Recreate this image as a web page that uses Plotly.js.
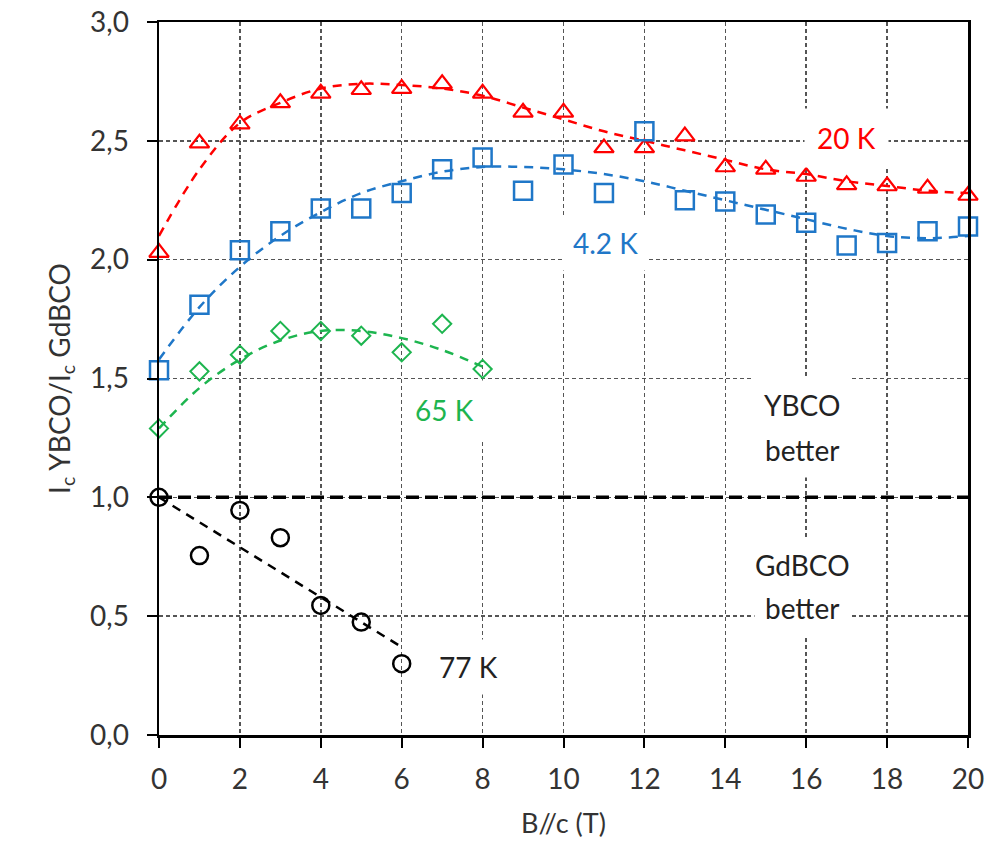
<!DOCTYPE html>
<html>
<head>
<meta charset="utf-8">
<script src="https://cdn.plot.ly/plotly-3.0.1.min.js"></script>
<style>html,body{margin:0;padding:0;background:#fff;}</style>
</head>
<body>
<div id="chart" style="width:995px;height:853px;"></div>
<script>
// ---- data ----
const fields20 = [0,1,2,3,4,5,6,7,8,9,10,11,12,13,14,15,16,17,18,19,20];
const ratio20K = [2.03,2.49,2.57,2.66,2.70,2.715,2.72,2.74,2.70,2.62,2.62,2.47,2.47,2.52,2.39,2.38,2.35,2.315,2.31,2.30,2.27];
const trend20K = [2.10,2.38,2.575,2.66,2.72,2.74,2.735,2.72,2.69,2.64,2.59,2.54,2.50,2.46,2.42,2.38,2.36,2.33,2.31,2.29,2.28];

const fields42 = [0,1,2,3,4,5,6,7,8,9,10,11,12,13,14,15,16,17,18,19,20];
const ratio42K = [1.535,1.81,2.04,2.12,2.215,2.215,2.28,2.38,2.43,2.29,2.40,2.28,2.54,2.25,2.245,2.19,2.155,2.06,2.07,2.12,2.14];
const trend42K = [1.58,1.80,1.97,2.10,2.20,2.28,2.33,2.37,2.39,2.39,2.38,2.36,2.33,2.29,2.25,2.21,2.17,2.13,2.10,2.09,2.10];

const fields65 = [0,1,2,3,4,5,6,7,8];
const ratio65K = [1.29,1.53,1.60,1.70,1.70,1.68,1.61,1.73,1.54];
const trend65K = [1.29,1.46,1.58,1.66,1.70,1.70,1.67,1.62,1.55];

const fields77 = [0,1,2,3,4,5,6];
const ratio77K = [1.00,0.755,0.945,0.83,0.545,0.475,0.30];
const trend77X = [0,6];
const trend77K = [1.00,0.37];

const equalX = [0,20];
const equalY = [1,1];

const xTicks = [0,2,4,6,8,10,12,14,16,18,20];
const yTicks = [0,0.5,1,1.5,2,2.5,3];

// ---- style ----
const RED = '#FF0000', BLUE = '#1F77C8', GREEN = '#1DB54F', BLACK = '#000000';
const FONT = 'Lato, "Open Sans", sans-serif';

function trend(x, y, color) {
  return {x: x, y: y, mode: 'lines', type: 'scatter', line: {color: color, width: 2.5, dash: '9px,7px', shape: 'spline', smoothing: 1}, hoverinfo: 'skip', showlegend: false, cliponaxis: false};
}
function pts(x, y, color, symbol, size, lw) {
  return {x: x, y: y, mode: 'markers', type: 'scatter', marker: {symbol: symbol, size: size, color: color, line: {color: color, width: lw}}, showlegend: false, cliponaxis: false};
}

const traces = [
  {x: equalX, y: equalY, mode: 'lines', type: 'scatter', line: {color: BLACK, width: 3.5, dash: '13px,6px'}, showlegend: false, hoverinfo: 'skip'},
  trend(fields20, trend20K, RED),
  trend(fields42, trend42K, BLUE),
  trend(fields65, trend65K, GREEN),
  {x: trend77X, y: trend77K, mode: 'lines', type: 'scatter', line: {color: BLACK, width: 2.5, dash: '9px,7px'}, showlegend: false, hoverinfo: 'skip'},
  pts(fields20, ratio20K, RED, 'triangle-up-open', 17, 2.2),
  pts(fields42, ratio42K, BLUE, 'square-open', 18, 2.5),
  pts(fields65, ratio65K, GREEN, 'diamond-open', 14, 2),
  pts(fields77, ratio77K, BLACK, 'circle-open', 17, 2.5)
];

const ann = (text, x, y, color, pad) => ({text: text, x: x, y: y, xref: 'x', yref: 'y', showarrow: false,
  font: {family: FONT, size: 28, color: color}, xanchor: 'center', yanchor: 'middle',
  bgcolor: 'rgba(255,255,255,1)', borderpad: pad === undefined ? 10 : pad});

const layout = {
  width: 995, height: 853,
  margin: {l: 159, r: 27, t: 22, b: 118},
  paper_bgcolor: '#fff', plot_bgcolor: '#fff',
  separators: ',.',
  font: {family: FONT, color: '#333'},
  xaxis: {
    range: [0, 20], tickvals: xTicks, ticktext: xTicks.map(String),
    showgrid: true, gridcolor: '#555', gridwidth: 1.5, griddash: '4px,3px',
    zeroline: false, showline: true, linecolor: BLACK, linewidth: 2.5, mirror: true,
    ticks: 'outside', ticklen: 10, tickwidth: 2, tickcolor: BLACK,
    tickfont: {family: FONT, size: 28, color: '#333'}, ticklabelstandoff: 8,
    title: {text: 'B//c (T)', font: {family: FONT, size: 27, color: '#333'}, standoff: 20}
  },
  yaxis: {
    range: [0, 3], tickvals: yTicks, tickformat: '.1f',
    showgrid: true, gridcolor: '#555', gridwidth: 1.5, griddash: '4px,3px',
    zeroline: false, showline: true, linecolor: BLACK, linewidth: 2.5, mirror: true,
    ticks: 'outside', ticklen: 10, tickwidth: 2, tickcolor: BLACK,
    tickfont: {family: FONT, size: 28, color: '#333'}, ticklabelstandoff: 12,
    title: {text: 'I<sub>c</sub> YBCO/I<sub>c</sub> GdBCO', font: {family: FONT, size: 28, color: '#333'}, standoff: 12}
  },
  annotations: [
    ann('20 K', 17.0, 2.51, RED, 12),
    ann('4.2 K', 11.03, 2.07, BLUE, 10),
    ann('65 K', 7.05, 1.367, GREEN, 12),
    ann('77 K', 7.64, 0.286, '#222', 10),
    ann('YBCO', 15.9, 1.389, '#222', 10),
    ann('better', 15.9, 1.199, '#222', 10),
    ann('GdBCO', 15.9, 0.715, '#222', 10),
    ann('better', 15.9, 0.534, '#222', 10)
  ]
};

Plotly.newPlot('chart', traces, layout, {displayModeBar: false, staticPlot: true});
</script>
</body>
</html>
